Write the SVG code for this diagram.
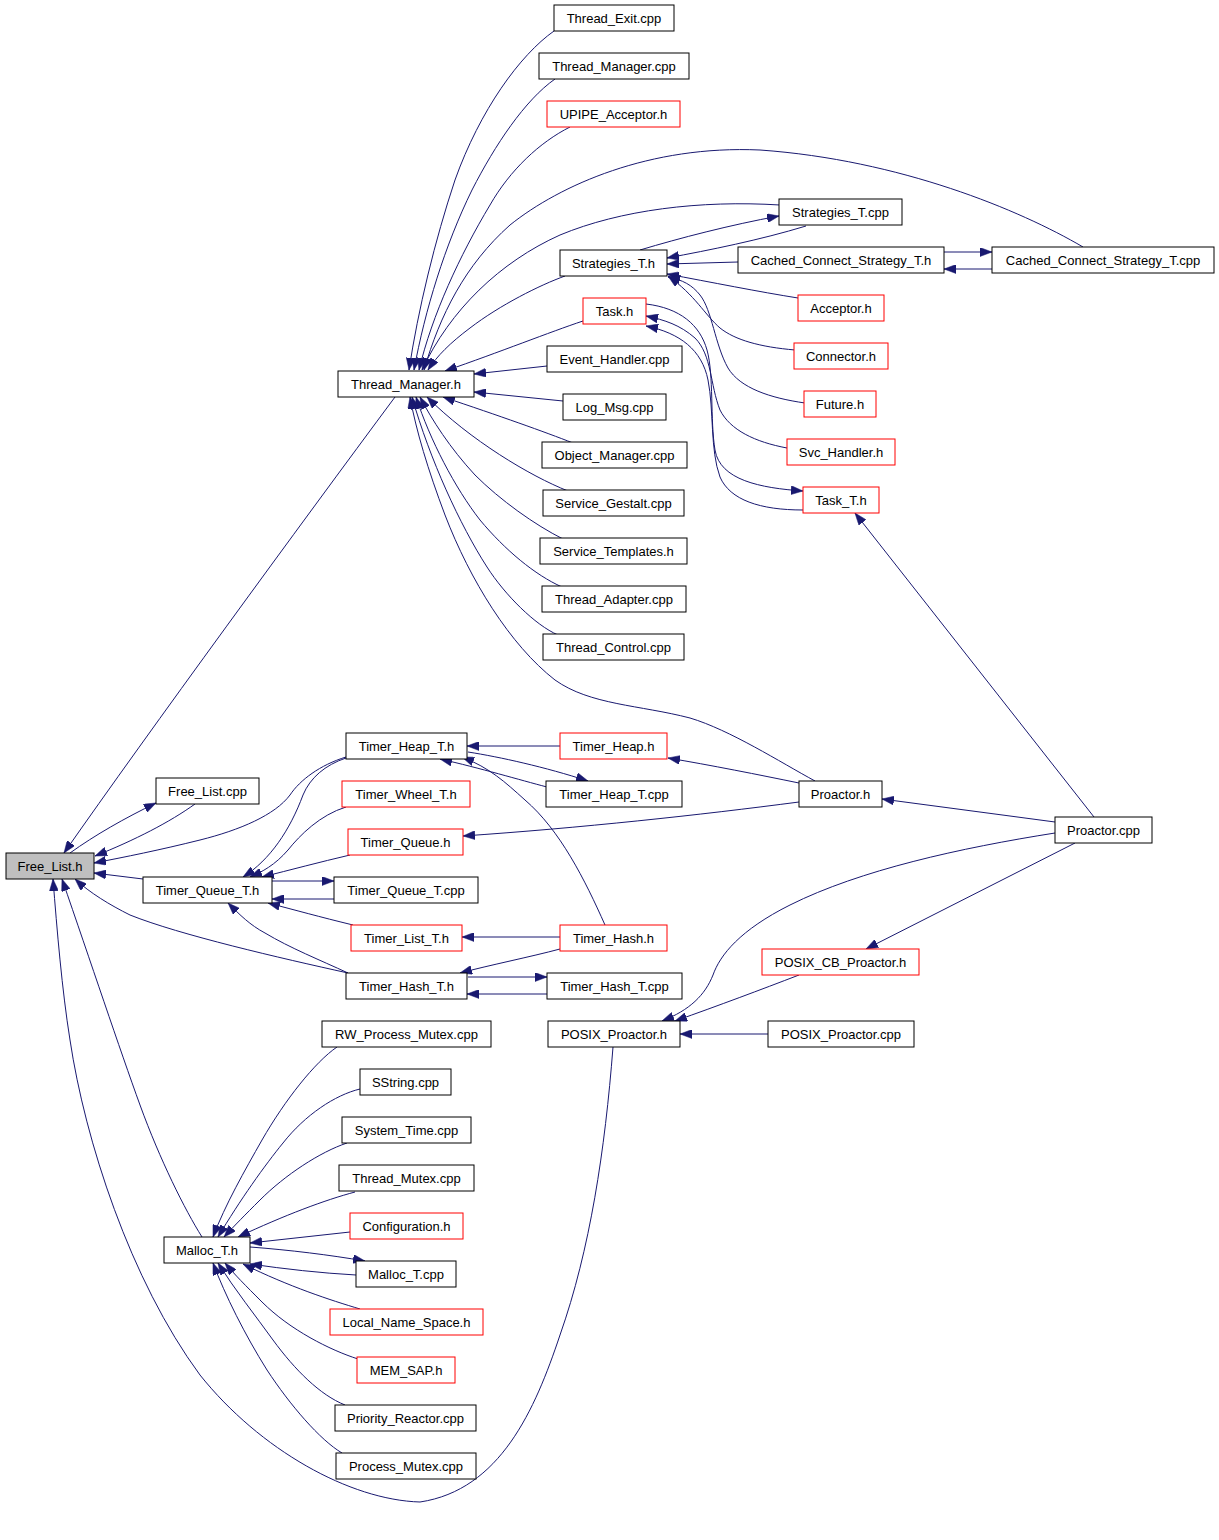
<svg xmlns="http://www.w3.org/2000/svg" width="1219" height="1540" viewBox="0 0 1219 1540">
<style>
.n rect{fill:#fff;stroke:#000;stroke-width:1}
.r rect{stroke:#f00}
.g rect{fill:#bfbfbf}
.n text{font-family:"Liberation Sans",Arial,sans-serif;font-size:13px;fill:#000;text-anchor:middle}
#edges path{fill:none;stroke:#191970;stroke-width:1;marker-end:url(#a)}
</style>
<defs>
<marker id="a" viewBox="0 0 12 9" refX="12" refY="4.5" markerWidth="12" markerHeight="9" markerUnits="userSpaceOnUse" orient="auto">
<path d="M0,0 L12,4.5 L0,9 z" fill="#191970" stroke="#191970" stroke-width="0.5"/>
</marker>
</defs>
<rect width="1219" height="1540" fill="#fff"/>
<g id="edges">
<path d="M554,31 C520,55 480,110 455,180 C435,240 418,310 409,370"/>
<path d="M555,79 C525,100 495,145 472,190 C445,245 425,310 414,370"/>
<path d="M570,127 C540,142 510,170 490,205 C460,255 432,315 419,370"/>
<path d="M1083,247 C1020,210 900,160 760,150 C650,145 560,185 510,225 C465,265 440,315 424,370"/>
<path d="M780,205 C700,200 620,210 560,235 C500,262 450,310 422,370"/>
<path d="M565,276 C540,285 500,305 470,328 C450,343 437,356 428,370"/>
<path d="M583,321 C550,332 500,352 445,371"/>
<path d="M547,366 L474,374"/>
<path d="M563,401 L474,392"/>
<path d="M573,443 C545,432 500,416 443,397"/>
<path d="M568,491 C530,476 470,440 427,397"/>
<path d="M563,539 C535,525 500,500 475,475 C450,448 432,420 420,397"/>
<path d="M562,587 C535,575 505,550 480,520 C455,488 430,440 416,397"/>
<path d="M558,635 C535,625 505,595 487,567 C460,525 430,460 412,397"/>
<path d="M815,781 C780,762 730,730 690,718 C640,705 590,705 555,680 C510,645 470,580 445,515 C428,470 416,430 410,397"/>
<path d="M395,397 C300,525 150,730 64,853"/>
<path d="M70,853 C95,835 125,818 156,803"/>
<path d="M195,804 C170,822 135,840 95,856"/>
<path d="M346,757 C320,765 300,780 290,795 C275,815 240,830 200,840 C160,850 125,857 94,863"/>
<path d="M143,879 L94,873"/>
<path d="M348,973 C280,958 180,935 130,915 C110,905 90,893 75,879"/>
<path d="M202,1237 C185,1210 160,1160 140,1105 C120,1050 90,960 62,879"/>
<path d="M613,1047 C605,1150 590,1250 560,1335 C535,1410 500,1490 420,1502 C350,1500 260,1450 200,1375 C130,1280 85,1140 70,1040 C62,990 57,930 53,879"/>
<path d="M560,746 L467,746"/>
<path d="M468,752 C500,757 545,767 588,781"/>
<path d="M547,787 C520,780 480,768 440,759"/>
<path d="M605,925 C585,880 560,830 525,800 C505,782 490,768 462,757"/>
<path d="M346,758 C325,765 310,778 303,795 C290,830 270,860 243,877"/>
<path d="M346,807 C320,815 300,835 288,850 C275,865 262,872 250,877"/>
<path d="M350,855 C320,862 290,870 262,877"/>
<path d="M272,881 L334,881"/>
<path d="M334,899 L272,899"/>
<path d="M353,925 C320,917 295,910 268,903"/>
<path d="M348,973 C320,960 290,948 265,933 C250,925 240,915 228,903"/>
<path d="M560,937 L462,937"/>
<path d="M560,949 C530,957 490,965 460,973"/>
<path d="M468,977 L547,977"/>
<path d="M547,994 L467,994"/>
<path d="M799,783 C760,775 710,765 668,758"/>
<path d="M799,802 C700,815 580,828 463,836"/>
<path d="M1055,822 L882,799"/>
<path d="M1094,817 L855,513"/>
<path d="M1075,843 L866,949"/>
<path d="M1055,833 C960,848 860,870 790,905 C740,930 720,955 713,975 C705,995 690,1010 662,1021"/>
<path d="M799,975 C760,990 720,1005 675,1021"/>
<path d="M768,1034 L680,1034"/>
<path d="M640,250 C680,238 730,225 779,216"/>
<path d="M806,226 C760,240 710,250 667,258"/>
<path d="M738,262 L667,264"/>
<path d="M944,252 L992,252"/>
<path d="M992,269 L944,269"/>
<path d="M798,298 C760,292 710,282 667,274"/>
<path d="M795,350 C760,347 735,340 720,328 C705,315 695,295 668,276"/>
<path d="M805,403 C770,398 740,388 728,368 C715,345 712,310 700,295 C692,285 683,280 668,277"/>
<path d="M787,448 C755,442 730,430 720,410 C710,385 712,355 695,338 C680,325 665,320 646,316"/>
<path d="M646,304 C680,308 700,325 707,350 C714,375 710,420 715,450 C720,480 760,488 803,491"/>
<path d="M803,510 C760,510 730,500 720,477 C710,450 714,410 708,380 C702,350 680,333 646,326"/>
<path d="M337,1047 C315,1062 285,1100 262,1140 C245,1170 225,1205 213,1237"/>
<path d="M360,1089 C335,1095 305,1115 283,1143 C265,1165 240,1200 218,1237"/>
<path d="M347,1143 C320,1152 285,1175 260,1200 C245,1215 235,1225 224,1237"/>
<path d="M355,1192 C325,1200 285,1215 238,1237"/>
<path d="M350,1232 L250,1243"/>
<path d="M250,1247 C290,1250 330,1255 365,1261"/>
<path d="M356,1275 C320,1273 285,1269 250,1264"/>
<path d="M360,1309 C330,1300 290,1287 243,1264"/>
<path d="M358,1359 C330,1350 290,1330 262,1302 C245,1285 235,1275 225,1263"/>
<path d="M345,1405 C320,1395 295,1370 273,1340 C255,1315 235,1290 218,1263"/>
<path d="M342,1453 C320,1440 290,1405 267,1370 C245,1335 225,1295 213,1263"/>
</g>
<g id="Free_List_h" class="n g"><rect x="6" y="853" width="88" height="26"/><text x="50" y="871">Free_List.h</text></g>
<g id="Thread_Exit_cpp" class="n"><rect x="554" y="5" width="120" height="26"/><text x="614" y="23">Thread_Exit.cpp</text></g>
<g id="Thread_Manager_cpp" class="n"><rect x="539" y="53" width="150" height="26"/><text x="614" y="71">Thread_Manager.cpp</text></g>
<g id="UPIPE_Acceptor_h" class="n r"><rect x="547" y="101" width="133" height="26"/><text x="613.5" y="119">UPIPE_Acceptor.h</text></g>
<g id="Strategies_T_cpp" class="n"><rect x="779" y="199" width="123" height="26"/><text x="840.5" y="217">Strategies_T.cpp</text></g>
<g id="Strategies_T_h" class="n"><rect x="560" y="250" width="107" height="26"/><text x="613.5" y="268">Strategies_T.h</text></g>
<g id="Cached_Connect_Strategy_T_h" class="n"><rect x="738" y="247" width="206" height="26"/><text x="841" y="265">Cached_Connect_Strategy_T.h</text></g>
<g id="Cached_Connect_Strategy_T_cpp" class="n"><rect x="992" y="247" width="222" height="26"/><text x="1103" y="265">Cached_Connect_Strategy_T.cpp</text></g>
<g id="Task_h" class="n r"><rect x="583" y="298" width="63" height="26"/><text x="614.5" y="316">Task.h</text></g>
<g id="Acceptor_h" class="n r"><rect x="798" y="295" width="86" height="26"/><text x="841" y="313">Acceptor.h</text></g>
<g id="Event_Handler_cpp" class="n"><rect x="547" y="346" width="135" height="26"/><text x="614.5" y="364">Event_Handler.cpp</text></g>
<g id="Connector_h" class="n r"><rect x="794" y="343" width="94" height="26"/><text x="841" y="361">Connector.h</text></g>
<g id="Thread_Manager_h" class="n"><rect x="338" y="371" width="136" height="26"/><text x="406" y="389">Thread_Manager.h</text></g>
<g id="Log_Msg_cpp" class="n"><rect x="563" y="394" width="103" height="26"/><text x="614.5" y="412">Log_Msg.cpp</text></g>
<g id="Future_h" class="n r"><rect x="804" y="391" width="72" height="26"/><text x="840" y="409">Future.h</text></g>
<g id="Object_Manager_cpp" class="n"><rect x="542" y="442" width="145" height="26"/><text x="614.5" y="460">Object_Manager.cpp</text></g>
<g id="Svc_Handler_h" class="n r"><rect x="787" y="439" width="108" height="26"/><text x="841" y="457">Svc_Handler.h</text></g>
<g id="Service_Gestalt_cpp" class="n"><rect x="543" y="490" width="141" height="26"/><text x="613.5" y="508">Service_Gestalt.cpp</text></g>
<g id="Task_T_h" class="n r"><rect x="803" y="487" width="76" height="26"/><text x="841" y="505">Task_T.h</text></g>
<g id="Service_Templates_h" class="n"><rect x="540" y="538" width="147" height="26"/><text x="613.5" y="556">Service_Templates.h</text></g>
<g id="Thread_Adapter_cpp" class="n"><rect x="542" y="586" width="144" height="26"/><text x="614" y="604">Thread_Adapter.cpp</text></g>
<g id="Thread_Control_cpp" class="n"><rect x="543" y="634" width="141" height="26"/><text x="613.5" y="652">Thread_Control.cpp</text></g>
<g id="Timer_Heap_T_h" class="n"><rect x="346" y="733" width="121" height="26"/><text x="406.5" y="751">Timer_Heap_T.h</text></g>
<g id="Timer_Heap_h" class="n r"><rect x="560" y="733" width="107" height="26"/><text x="613.5" y="751">Timer_Heap.h</text></g>
<g id="Free_List_cpp" class="n"><rect x="156" y="778" width="103" height="26"/><text x="207.5" y="796">Free_List.cpp</text></g>
<g id="Timer_Wheel_T_h" class="n r"><rect x="342" y="781" width="128" height="26"/><text x="406" y="799">Timer_Wheel_T.h</text></g>
<g id="Timer_Heap_T_cpp" class="n"><rect x="546" y="781" width="136" height="26"/><text x="614" y="799">Timer_Heap_T.cpp</text></g>
<g id="Proactor_h" class="n"><rect x="799" y="781" width="83" height="26"/><text x="840.5" y="799">Proactor.h</text></g>
<g id="Proactor_cpp" class="n"><rect x="1055" y="817" width="97" height="26"/><text x="1103.5" y="835">Proactor.cpp</text></g>
<g id="Timer_Queue_h" class="n r"><rect x="348" y="829" width="115" height="26"/><text x="405.5" y="847">Timer_Queue.h</text></g>
<g id="Timer_Queue_T_h" class="n"><rect x="143" y="877" width="129" height="26"/><text x="207.5" y="895">Timer_Queue_T.h</text></g>
<g id="Timer_Queue_T_cpp" class="n"><rect x="334" y="877" width="144" height="26"/><text x="406" y="895">Timer_Queue_T.cpp</text></g>
<g id="Timer_List_T_h" class="n r"><rect x="351" y="925" width="111" height="26"/><text x="406.5" y="943">Timer_List_T.h</text></g>
<g id="Timer_Hash_h" class="n r"><rect x="560" y="925" width="107" height="26"/><text x="613.5" y="943">Timer_Hash.h</text></g>
<g id="POSIX_CB_Proactor_h" class="n r"><rect x="762" y="949" width="157" height="26"/><text x="840.5" y="967">POSIX_CB_Proactor.h</text></g>
<g id="Timer_Hash_T_h" class="n"><rect x="346" y="973" width="121" height="26"/><text x="406.5" y="991">Timer_Hash_T.h</text></g>
<g id="Timer_Hash_T_cpp" class="n"><rect x="547" y="973" width="135" height="26"/><text x="614.5" y="991">Timer_Hash_T.cpp</text></g>
<g id="RW_Process_Mutex_cpp" class="n"><rect x="322" y="1021" width="169" height="26"/><text x="406.5" y="1039">RW_Process_Mutex.cpp</text></g>
<g id="POSIX_Proactor_h" class="n"><rect x="548" y="1021" width="132" height="26"/><text x="614" y="1039">POSIX_Proactor.h</text></g>
<g id="POSIX_Proactor_cpp" class="n"><rect x="768" y="1021" width="146" height="26"/><text x="841" y="1039">POSIX_Proactor.cpp</text></g>
<g id="SString_cpp" class="n"><rect x="360" y="1069" width="91" height="26"/><text x="405.5" y="1087">SString.cpp</text></g>
<g id="System_Time_cpp" class="n"><rect x="342" y="1117" width="129" height="26"/><text x="406.5" y="1135">System_Time.cpp</text></g>
<g id="Thread_Mutex_cpp" class="n"><rect x="339" y="1165" width="135" height="26"/><text x="406.5" y="1183">Thread_Mutex.cpp</text></g>
<g id="Configuration_h" class="n r"><rect x="350" y="1213" width="113" height="26"/><text x="406.5" y="1231">Configuration.h</text></g>
<g id="Malloc_T_h" class="n"><rect x="164" y="1237" width="86" height="26"/><text x="207" y="1255">Malloc_T.h</text></g>
<g id="Malloc_T_cpp" class="n"><rect x="356" y="1261" width="100" height="26"/><text x="406" y="1279">Malloc_T.cpp</text></g>
<g id="Local_Name_Space_h" class="n r"><rect x="330" y="1309" width="153" height="26"/><text x="406.5" y="1327">Local_Name_Space.h</text></g>
<g id="MEM_SAP_h" class="n r"><rect x="357" y="1357" width="98" height="26"/><text x="406" y="1375">MEM_SAP.h</text></g>
<g id="Priority_Reactor_cpp" class="n"><rect x="335" y="1405" width="141" height="26"/><text x="405.5" y="1423">Priority_Reactor.cpp</text></g>
<g id="Process_Mutex_cpp" class="n"><rect x="336" y="1453" width="140" height="26"/><text x="406" y="1471">Process_Mutex.cpp</text></g>
</svg>
